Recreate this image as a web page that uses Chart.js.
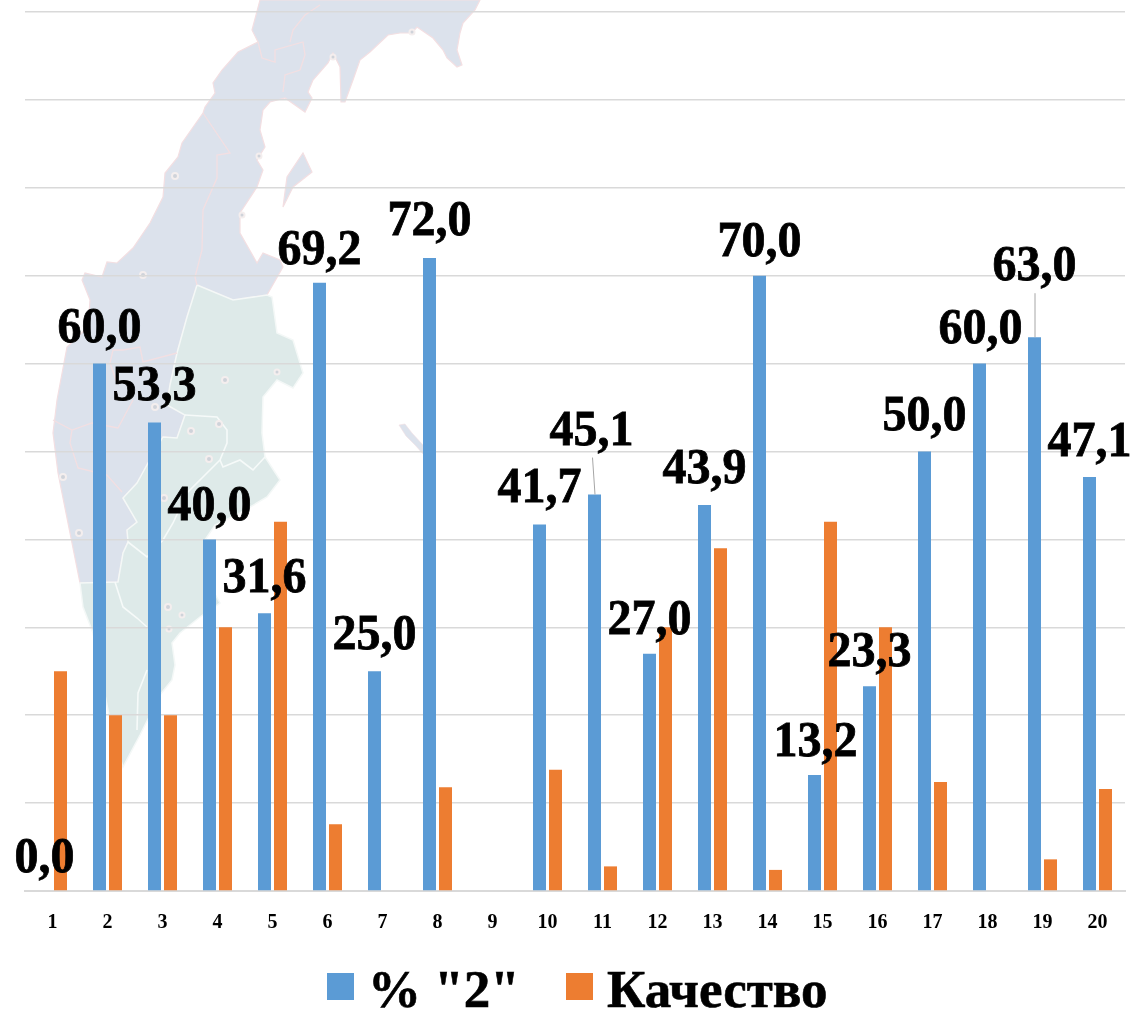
<!DOCTYPE html>
<html>
<head>
<meta charset="utf-8">
<script src="https://cdn.jsdelivr.net/npm/chart.js@4"></script>
<style>
    body { margin: 0; background: #fff; }
    #wrap { position: relative; width: 1134px; height: 1009px; overflow: hidden; }
    #map, #chart { position: absolute; left: 0; top: 0; }
    #map .blue { fill: #dce2ec; stroke: #f3dfe2; stroke-width: 1.2; }
    #map .green { fill: #deeae9; stroke: #f4f8f7; stroke-width: 1.5; }
    #map .line1 { fill: none; stroke: #f3dfe2; stroke-width: 1.3; }
    #map .line2 { fill: none; stroke: #f6faf9; stroke-width: 1.6; }
    #map circle { fill: #cfd3da; stroke: #f4eeee; stroke-width: 2; }
</style>
</head>
<body>
<div id="wrap">
    <!-- map behind the chart -->
    <svg id="map" width="1134" height="1009">
        <path class="blue" d="M260,0 L252,30 L258,42 L238,52 L222,70 L213,83 L215,93 L205,107 L203,113 L182,143 L178,157 L165,173 L163,197 L150,223 L133,248 L117,263 L107,262 L102,277 L85,273 L82,280 L90,300 L88,327 L67,347 L57,400 L53,433 L58,473 L80,583 L118,582 L123,553 L128,542 L127,530 L137,522 L123,498 L137,483 L148,463 L163,437 L177,438 L185,415 L167,405 L170,385 L177,353 L187,317 L197,285 L233,300 L267,295 L283,267 L280,260 L263,253 L257,263 L240,233 L240,213 L257,187 L263,170 L257,160 L265,147 L260,130 L263,110 L270,102 L285,98 L305,112 L312,98 L308,92 L313,80 L328,63 L333,53 L340,67 L341,102 L345,102 L353,80 L360,60 L370,52 L388,35 L400,33 L412,33 L417,27 L433,38 L443,50 L447,58 L457,67 L462,65 L457,50 L460,33 L463,23 L475,10 L480,0 Z"/>
        <path class="blue" d="M303,153 L312,172 L293,187 L283,207 L287,177 Z"/>
        <path class="green" d="M197,285 L233,300 L267,295 L272,297 L277,333 L293,340 L303,373 L293,388 L277,380 L263,397 L262,433 L265,457 L280,480 L267,497 L240,513 L215,525 L205,540 L207,580 L220,603 L200,617 L180,633 L172,643 L175,665 L172,680 L160,695 L150,715 L140,735 L123,767 L112,730 L100,670 L93,633 L83,607 L80,583 L118,582 L123,553 L128,542 L127,530 L137,522 L123,498 L137,483 L148,463 L163,437 L177,438 L185,415 L167,405 L170,385 L177,353 L187,317 Z"/>
        <path class="blue" d="M399,425 L405,424 L412,433 L423,445 L424,455 L415,445 L406,436 Z" style="stroke-width:0.6"/>
        <path class="line1" d="M203,113 L230,153 L217,155 L217,178 L203,210 L202,250 L195,277 L197,285"/>
        <path class="line1" d="M258,42 L262,58 L275,62 L275,50 L303,42 L305,55 L300,70 L285,75 L283,92 M290,42 L293,30 L305,15 L320,5"/>
        <path class="line1" d="M53,420 L72,430 L92,423 L118,428 L133,400 M72,430 L70,443 L78,468 L107,475 L122,492 M177,353 L143,362 L140,347 L123,350 L113,350 L110,363 L117,383"/>
        <path class="line2" d="M185,415 L217,417 L227,430 L227,443 L220,460 L223,467 L240,460 L253,470 L265,457 M220,460 L187,493 L173,523 L163,540 L147,557 L128,542 M115,582 L123,607 L137,618 L147,627 M147,670 L138,693 L137,730"/>
        <circle cx="175" cy="176" r="3"/><circle cx="143" cy="275" r="3"/><circle cx="259" cy="156" r="2.5"/>
        <circle cx="242" cy="215" r="2.5"/><circle cx="333" cy="57" r="2.5"/><circle cx="412" cy="32" r="2.5"/>
        <circle cx="225" cy="380" r="3"/><circle cx="277" cy="372" r="2.5"/><circle cx="155" cy="407" r="3"/>
        <circle cx="191" cy="431" r="3"/><circle cx="219" cy="424" r="3"/><circle cx="209" cy="459" r="3"/>
        <circle cx="63" cy="477" r="3"/><circle cx="79" cy="533" r="3"/><circle cx="164" cy="498" r="3"/>
        <circle cx="168" cy="607" r="3"/><circle cx="182" cy="615" r="2.5"/><circle cx="169" cy="629" r="2.5"/>
    </svg>
    <canvas id="chart" width="1134" height="1009"></canvas>
</div>
<script>
    // DATA
    const categories = ["1", "2", "3", "4", "5", "6", "7", "8", "9", "10", "11", "12", "13", "14", "15", "16", "17", "18", "19", "20"]
    const percentTwo = [0, 60, 53.3, 40, 31.6, 69.2, 25, 72, null, 41.7, 45.1, 27, 43.9, 70, 13.2, 23.3, 50, 60, 63, 47.1]
    const quality = [25, 20, 20, 30, 42, 7.6, 0, 11.8, null, 13.8, 2.8, 30, 39, 2.4, 42, 30, 12.4, 0, 3.6, 11.6]

    // hand placed data labels, offset from the top of each blue bar
    const labelDx = [0, 0, 0, 0, 0, 0, 0, 0, 0, 0, -3, 0, 0, 0, 1, 0, 0, 1, 0, 0]
    const labelDy = [-32, -35, -35, -32, -34, -32, -35, -36, 0, -35, -62, -33, -35, -33, -32, -33, -34, -34, -70, -34]
    // bars whose label sits far away get a thin leader line
    const leaderLength = { 10: 37, 18: 44 }

    const serif = "'Liberation Serif', 'Times New Roman', serif"

    let labelsPlugin = {
        id: 'barLabels',
        afterDatasetsDraw: function (chart) {
            let ctx = chart.ctx
            let bars = chart.getDatasetMeta(0).data
            percentTwo.forEach(function (value, i) {
                if (value === null) return
                let text = value.toFixed(1).replace('.', ',')
                ctx.save()
                ctx.strokeStyle = '#a6a6a6'
                ctx.lineWidth = 1
                if (leaderLength[i]) {
                    ctx.beginPath()
                    ctx.moveTo(bars[i].x + 0.5, bars[i].y)
                    ctx.lineTo(bars[i].x + (i === 10 ? -2 : 0.5), bars[i].y - leaderLength[i])
                    ctx.stroke()
                }
                // the reference text is a bit narrow and heavy
                ctx.translate(bars[i].x + labelDx[i], bars[i].y + labelDy[i])
                ctx.scale(0.96, 1)
                ctx.fillStyle = '#000'
                ctx.strokeStyle = '#000'
                ctx.lineWidth = 0.8
                ctx.font = 'bold 50px ' + serif
                ctx.textAlign = 'center'
                ctx.textBaseline = 'middle'
                ctx.fillText(text, 0, 0)
                ctx.strokeText(text, 0, 0)
                ctx.restore()
            })
        }
    }

    // legend drawn by hand, the built-in one can't get the text this close to the box
    let legendPlugin = {
        id: 'bottomLegend',
        afterDraw: function (chart) {
            let ctx = chart.ctx
            let x = [327, 566]
            ctx.save()
            ctx.font = 'bold 53px ' + serif
            ctx.textAlign = 'left'
            ctx.textBaseline = 'alphabetic'
            ctx.lineWidth = 0.6
            chart.data.datasets.forEach(function (ds, i) {
                ctx.fillStyle = ds.backgroundColor
                ctx.fillRect(x[i], 973, 27, 27)
                ctx.fillStyle = '#000'
                ctx.strokeStyle = '#000'
                ctx.fillText(ds.label, x[i] + 41, 1007)
                ctx.strokeText(ds.label, x[i] + 41, 1007)
            })
            ctx.restore()
        }
    }

    new Chart(document.getElementById('chart'), {
        type: 'bar',
        data: {
            labels: categories,
            datasets: [
                { label: '% "2"', data: percentTwo, backgroundColor: '#5b9bd5' },
                { label: 'Качество', data: quality, backgroundColor: '#ed7d31' }
            ]
        },
        options: {
            responsive: false,
            animation: false,
            categoryPercentage: 32 / 55,
            barPercentage: 13 / 16,
            layout: { padding: { left: 25, right: 9, top: 12, bottom: 62 } },
            plugins: {
                legend: { display: false },
                tooltip: { enabled: false }
            },
            scales: {
                x: {
                    grid: { display: false },
                    border: { color: '#d9d9d9', width: 2 },
                    ticks: {
                        color: '#000',
                        padding: 12,
                        maxRotation: 0,
                        autoSkip: false,
                        font: { family: serif, size: 20, weight: 'bold' }
                    }
                },
                y: {
                    min: 0,
                    max: 100,
                    ticks: { display: false, stepSize: 10 },
                    border: { display: false },
                    grid: { color: '#d9d9d9', lineWidth: 1.5, drawTicks: false }
                }
            }
        },
        plugins: [labelsPlugin, legendPlugin]
    })
</script>
</body>
</html>
